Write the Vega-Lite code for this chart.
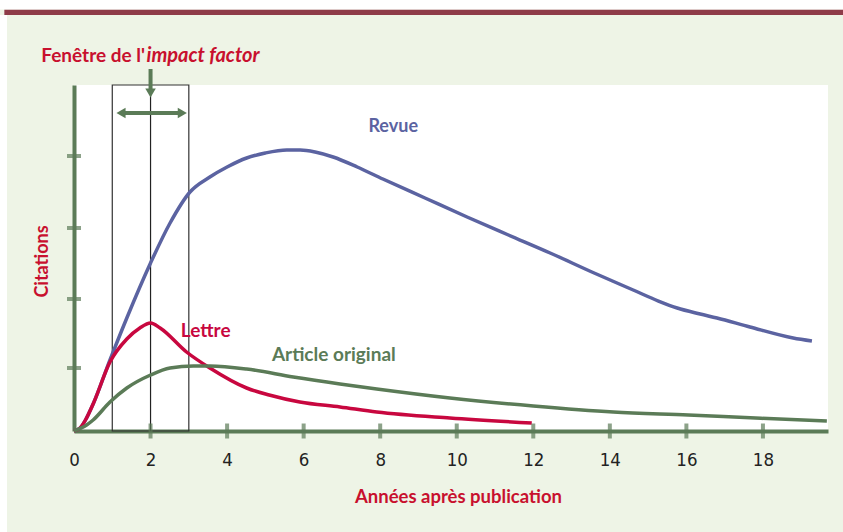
{
  "$schema": "https://vega.github.io/schema/vega-lite/v6.json",
  "width": 754,
  "height": 346,
  "autosize": {"type": "none"},
  "padding": {"left": 74, "top": 85, "right": 15, "bottom": 101},
  "background": "#eef4e6",
  "config": {"view": {"fill": "white", "stroke": null}},
  "datasets": {
    "curves": [
      {"series": "Revue", "annee": 0, "citations": 0},
      {"series": "Revue", "annee": 0.16, "citations": 3},
      {"series": "Revue", "annee": 0.3, "citations": 11},
      {"series": "Revue", "annee": 0.5, "citations": 27},
      {"series": "Revue", "annee": 0.94, "citations": 71},
      {"series": "Revue", "annee": 1.38, "citations": 113},
      {"series": "Revue", "annee": 2.0, "citations": 168},
      {"series": "Revue", "annee": 2.51, "citations": 208},
      {"series": "Revue", "annee": 3.03, "citations": 239},
      {"series": "Revue", "annee": 3.55, "citations": 254},
      {"series": "Revue", "annee": 4.0, "citations": 264},
      {"series": "Revue", "annee": 4.51, "citations": 273},
      {"series": "Revue", "annee": 5.0, "citations": 278},
      {"series": "Revue", "annee": 5.56, "citations": 281},
      {"series": "Revue", "annee": 5.91, "citations": 281},
      {"series": "Revue", "annee": 6.3, "citations": 279},
      {"series": "Revue", "annee": 6.77, "citations": 274},
      {"series": "Revue", "annee": 7.4, "citations": 264},
      {"series": "Revue", "annee": 8.07, "citations": 252},
      {"series": "Revue", "annee": 9.17, "citations": 233},
      {"series": "Revue", "annee": 10.27, "citations": 214},
      {"series": "Revue", "annee": 11.35, "citations": 196},
      {"series": "Revue", "annee": 12.44, "citations": 178},
      {"series": "Revue", "annee": 13.53, "citations": 159},
      {"series": "Revue", "annee": 14.61, "citations": 141},
      {"series": "Revue", "annee": 15.27, "citations": 130},
      {"series": "Revue", "annee": 15.76, "citations": 123},
      {"series": "Revue", "annee": 16.36, "citations": 117},
      {"series": "Revue", "annee": 16.8, "citations": 113},
      {"series": "Revue", "annee": 17.66, "citations": 104},
      {"series": "Revue", "annee": 18.79, "citations": 93},
      {"series": "Revue", "annee": 19.28, "citations": 90},
      {"series": "Lettre", "annee": 0, "citations": 0},
      {"series": "Lettre", "annee": 0.16, "citations": 3},
      {"series": "Lettre", "annee": 0.3, "citations": 11},
      {"series": "Lettre", "annee": 0.5, "citations": 27},
      {"series": "Lettre", "annee": 0.94, "citations": 69},
      {"series": "Lettre", "annee": 1.38, "citations": 92},
      {"series": "Lettre", "annee": 1.72, "citations": 103},
      {"series": "Lettre", "annee": 2.0, "citations": 108},
      {"series": "Lettre", "annee": 2.25, "citations": 103},
      {"series": "Lettre", "annee": 2.94, "citations": 79},
      {"series": "Lettre", "annee": 3.55, "citations": 63},
      {"series": "Lettre", "annee": 4.51, "citations": 43},
      {"series": "Lettre", "annee": 5.1, "citations": 36},
      {"series": "Lettre", "annee": 5.9, "citations": 29},
      {"series": "Lettre", "annee": 6.95, "citations": 24},
      {"series": "Lettre", "annee": 7.91, "citations": 19},
      {"series": "Lettre", "annee": 9.82, "citations": 13},
      {"series": "Lettre", "annee": 11.96, "citations": 8},
      {"series": "Article original", "annee": 0, "citations": 0},
      {"series": "Article original", "annee": 0.33, "citations": 6},
      {"series": "Article original", "annee": 0.5, "citations": 11},
      {"series": "Article original", "annee": 0.94, "citations": 29},
      {"series": "Article original", "annee": 1.38, "citations": 43},
      {"series": "Article original", "annee": 2.0, "citations": 56},
      {"series": "Article original", "annee": 2.51, "citations": 63},
      {"series": "Article original", "annee": 3.12, "citations": 65},
      {"series": "Article original", "annee": 3.55, "citations": 65},
      {"series": "Article original", "annee": 4.51, "citations": 62},
      {"series": "Article original", "annee": 5.73, "citations": 54},
      {"series": "Article original", "annee": 6.95, "citations": 47},
      {"series": "Article original", "annee": 7.91, "citations": 42},
      {"series": "Article original", "annee": 9.82, "citations": 33},
      {"series": "Article original", "annee": 12.0, "citations": 25},
      {"series": "Article original", "annee": 14.09, "citations": 19},
      {"series": "Article original", "annee": 16.05, "citations": 16},
      {"series": "Article original", "annee": 17.95, "citations": 12.7},
      {"series": "Article original", "annee": 19.67, "citations": 10}
    ],
    "xticks": [{"v": 2}, {"v": 4}, {"v": 6}, {"v": 8}, {"v": 10}, {"v": 12}, {"v": 14}, {"v": 16}, {"v": 18}],
    "yticks": [{"v": 63}, {"v": 132}, {"v": 203}, {"v": 275}],
    "one": [{}]
  },
  "layer": [
    {
      "data": {"name": "one"},
      "mark": {"type": "rect", "fill": "white"},
      "encoding": {
        "x": {"datum": -2.1, "type": "quantitative", "scale": {"domain": [0, 19.7], "nice": false}},
        "x2": {"datum": 20.3},
        "y": {"datum": 421.5, "type": "quantitative", "scale": {"domain": [0, 346], "nice": false}},
        "y2": {"datum": 433}
      }
    },
    {
      "data": {"name": "one"},
      "mark": {"type": "rect", "fill": "white"},
      "encoding": {
        "x": {"datum": -2.1, "type": "quantitative"},
        "x2": {"datum": -1.75},
        "y": {"datum": -102, "type": "quantitative"},
        "y2": {"datum": 416}
      }
    },
    {
      "data": {"name": "one"},
      "mark": {"type": "rule", "color": "#8e3b48", "strokeWidth": 5.3},
      "encoding": {
        "x": {"datum": -1.82, "type": "quantitative"},
        "x2": {"datum": 20.3},
        "y": {"datum": 418.7, "type": "quantitative"}
      }
    },
    {
      "data": {"name": "one"},
      "mark": {"type": "rect", "fill": null, "stroke": "#333333", "strokeWidth": 1.2},
      "encoding": {
        "x": {"datum": 1, "type": "quantitative"},
        "x2": {"datum": 3},
        "y": {"datum": 0, "type": "quantitative"},
        "y2": {"datum": 346}
      }
    },
    {
      "data": {"name": "one"},
      "mark": {"type": "rule", "color": "#222222", "strokeWidth": 1.2},
      "encoding": {
        "x": {"datum": 2, "type": "quantitative"},
        "y": {"datum": 0, "type": "quantitative"},
        "y2": {"datum": 346}
      }
    },
    {
      "data": {"name": "curves"},
      "mark": {"type": "line", "interpolate": "monotone", "strokeWidth": 3.5},
      "encoding": {
        "x": {
          "field": "annee", "type": "quantitative",
          "axis": {
            "values": [0, 2, 4, 6, 8, 10, 12, 14, 16, 18],
            "grid": false, "ticks": false, "tickSize": 0,
            "domainColor": "#5b7b57", "domainWidth": 4,
            "labelFont": "Liberation Sans Narrow, DejaVu Sans Condensed, sans-serif",
            "labelFontSize": 18.5, "labelColor": "#222222",
            "labelBaseline": "alphabetic", "labelPadding": 34,
            "labelFlush": false, "labelOverlap": false,
            "title": "Années après publication",
            "titleFont": "Lato", "titleFontWeight": "bold", "titleFontSize": 18.5,
            "titleColor": "#c8102e", "titleBaseline": "alphabetic",
            "titleX": 384, "titleY": 71, "titleAnchor": null, "titleAlign": "center"
          }
        },
        "y": {
          "field": "citations", "type": "quantitative",
          "axis": {
            "values": [],
            "labels": false, "grid": false, "ticks": false,
            "domainColor": "#5b7b57", "domainWidth": 4,
            "title": "Citations",
            "titleFont": "Lato", "titleFontWeight": "bold", "titleFontSize": 18,
            "titleColor": "#c8102e", "titleBaseline": "alphabetic",
            "titleAngle": -90, "titleX": -27, "titleY": 176, "titleAlign": "center", "titleAnchor": null
          }
        },
        "color": {
          "field": "series", "type": "nominal",
          "scale": {"domain": ["Revue", "Lettre", "Article original"], "range": ["#5b63a1", "#c8073f", "#5b7b57"]},
          "legend": null
        }
      }
    },
    {
      "data": {"name": "xticks"},
      "mark": {"type": "tick", "orient": "vertical", "color": "#5b7b57", "thickness": 4, "size": 15},
      "encoding": {
        "x": {"field": "v", "type": "quantitative"},
        "y": {"datum": 0, "type": "quantitative"}
      }
    },
    {
      "data": {"name": "yticks"},
      "mark": {"type": "tick", "orient": "horizontal", "color": "#5b7b57", "thickness": 4, "size": 14},
      "encoding": {
        "x": {"datum": 0, "type": "quantitative"},
        "y": {"field": "v", "type": "quantitative"}
      }
    },
    {
      "data": {"name": "one"},
      "mark": {"type": "rule", "color": "#5b7b57", "strokeWidth": 4},
      "encoding": {
        "x": {"datum": 1.2, "type": "quantitative"},
        "x2": {"datum": 2.85},
        "y": {"datum": 318, "type": "quantitative"}
      }
    },
    {
      "data": {"name": "one"},
      "mark": {"type": "point", "shape": "triangle-left", "filled": true, "color": "#5b7b57", "size": 110, "opacity": 1},
      "encoding": {
        "x": {"datum": 1.228, "type": "quantitative"},
        "y": {"datum": 318, "type": "quantitative"}
      }
    },
    {
      "data": {"name": "one"},
      "mark": {"type": "point", "shape": "triangle-right", "filled": true, "color": "#5b7b57", "size": 110, "opacity": 1},
      "encoding": {
        "x": {"datum": 2.83, "type": "quantitative"},
        "y": {"datum": 318, "type": "quantitative"}
      }
    },
    {
      "data": {"name": "one"},
      "mark": {"type": "rule", "color": "#5b7b57", "strokeWidth": 4},
      "encoding": {
        "x": {"datum": 2, "type": "quantitative"},
        "y": {"datum": 362, "type": "quantitative"},
        "y2": {"datum": 340}
      }
    },
    {
      "data": {"name": "one"},
      "mark": {"type": "point", "shape": "triangle-down", "filled": true, "color": "#5b7b57", "size": 110, "opacity": 1},
      "encoding": {
        "x": {"datum": 2, "type": "quantitative"},
        "y": {"datum": 338, "type": "quantitative"}
      }
    },
    {
      "data": {"name": "one"},
      "mark": {"type": "text", "text": "Revue", "font": "Lato", "fontWeight": "bold", "fontSize": 18, "color": "#5b63a1", "align": "center", "baseline": "middle"},
      "encoding": {
        "x": {"datum": 8.34, "type": "quantitative"},
        "y": {"datum": 304, "type": "quantitative"}
      }
    },
    {
      "data": {"name": "one"},
      "mark": {"type": "text", "text": "Lettre", "font": "Lato", "fontWeight": "bold", "fontSize": 19, "color": "#c8073f", "align": "left", "baseline": "alphabetic"},
      "encoding": {
        "x": {"datum": 2.79, "type": "quantitative"},
        "y": {"datum": 94, "type": "quantitative"}
      }
    },
    {
      "data": {"name": "one"},
      "mark": {"type": "text", "text": "Article original", "font": "Lato", "fontWeight": "bold", "fontSize": 19, "color": "#5b7b57", "align": "left", "baseline": "alphabetic"},
      "encoding": {
        "x": {"datum": 5.17, "type": "quantitative"},
        "y": {"datum": 70, "type": "quantitative"}
      }
    },
    {
      "data": {"name": "one"},
      "mark": {"type": "text", "text": "Fenêtre de l'", "font": "Lato", "fontWeight": "bold", "fontSize": 19, "color": "#c8102e", "align": "right", "baseline": "alphabetic"},
      "encoding": {
        "x": {"datum": 1.855, "type": "quantitative"},
        "y": {"datum": 369.5, "type": "quantitative"}
      }
    },
    {
      "data": {"name": "one"},
      "mark": {"type": "text", "text": "impact factor", "font": "Lato", "fontWeight": "bold", "fontStyle": "italic", "fontSize": 20, "color": "#c8102e", "align": "left", "baseline": "alphabetic"},
      "encoding": {
        "x": {"datum": 1.894, "type": "quantitative"},
        "y": {"datum": 369.5, "type": "quantitative"}
      }
    }
  ]
}
